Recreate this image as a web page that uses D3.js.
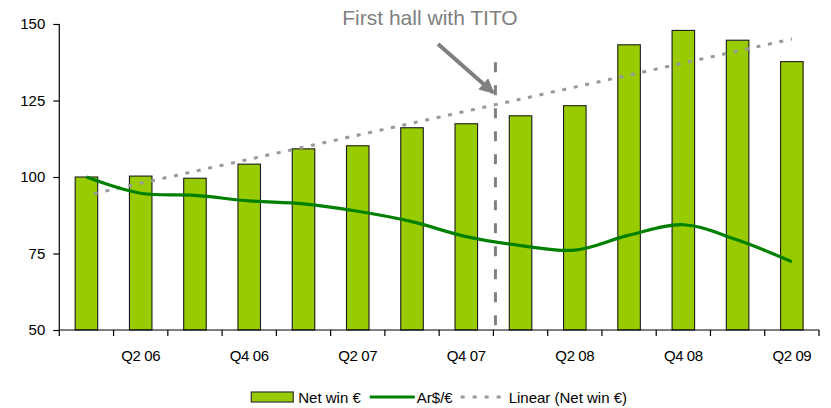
<!DOCTYPE html>
<html>
<head>
<meta charset="utf-8">
<script src="https://cdn.jsdelivr.net/npm/d3@7"></script>
<style>
  html, body { margin: 0; padding: 0; background: #fff; }
  svg { display: block; font-family: "Liberation Sans", Arial, sans-serif; }
</style>
</head>
<body>
<svg id="chart" width="831" height="408"></svg>
<script>
// Quarterly index (Q1 06 = 100)
const quarters = ["Q1 06","Q2 06","Q3 06","Q4 06","Q1 07","Q2 07","Q3 07","Q4 07",
                  "Q1 08","Q2 08","Q3 08","Q4 08","Q1 09","Q2 09"];
const netWin   = [100, 100.3, 99.6, 104.2, 109.2, 110.2, 116.1, 117.4,
                  120.0, 123.3, 143.2, 147.9, 144.7, 137.7];
const arsPerEur = [100, 94.7, 94.0, 92.2, 91.2, 88.8, 85.4, 80.5,
                   77.6, 76.1, 81.0, 84.4, 79.4, 72.3];
const yTicks = [50, 75, 100, 125, 150];
const xLabelQuarters = ["Q2 06","Q4 06","Q2 07","Q4 07","Q2 08","Q4 08","Q2 09"];
const titoQuarter = "Q1 08";          // first hall with TITO
const annotationText = "First hall with TITO";
const legendLabels = ["Net win \u20ac", "Ar$/\u20ac", "Linear (Net win \u20ac)"];

const svg = d3.select("#chart");
const margin = { left: 59.3, right: 12, top: 24, bottom: 78 };
const W = 831, H = 408;

const x = d3.scaleBand()
  .domain(quarters)
  .range([margin.left, W - margin.right])
  .paddingInner(0.585)
  .paddingOuter(0.2925);
const step = x.step();
const cx = q => x(q) + x.bandwidth() / 2;

const y = d3.scaleLinear().domain([50, 150]).range([H - margin.bottom, margin.top]);

const barColor = "#99cc00";
const lineColor = "#008000";
const trendColor = "#999999";
const annoColor = "#808080";

// Bars
svg.append("g").selectAll("rect")
  .data(quarters)
  .join("rect")
  .attr("x", q => x(q))
  .attr("y", (q, i) => y(netWin[i]))
  .attr("width", x.bandwidth())
  .attr("height", (q, i) => y(50) - y(netWin[i]))
  .attr("fill", barColor)
  .attr("stroke", "#1a1a1a")
  .attr("stroke-width", 1.1);

// Linear trend of net win (least squares over quarter index)
const n = netWin.length;
const idx = d3.range(1, n + 1);
const mx = d3.mean(idx), my = d3.mean(netWin);
const slope = d3.sum(idx, (v, i) => (v - mx) * (netWin[i] - my)) / d3.sum(idx, v => (v - mx) ** 2);
const icpt = my - slope * mx;
const trend = [quarters[0], quarters[n - 1]].map((q, k) => {
  const t = k === 0 ? 1 : n;
  return [cx(q), y(icpt + slope * t)];
});
svg.append("path")
  .attr("d", d3.line()(trend))
  .attr("fill", "none")
  .attr("stroke", trendColor)
  .attr("stroke-width", 3)
  .attr("stroke-dasharray", "4,7.7")
  .attr("stroke-dashoffset", 4);

// TITO marker line
const titoX = x(titoQuarter) - (step - x.bandwidth()) / 2 + 2;
svg.append("line")
  .attr("x1", titoX).attr("x2", titoX)
  .attr("y1", y(137.5)).attr("y2", y(50))
  .attr("stroke", annoColor)
  .attr("stroke-width", 3)
  .attr("stroke-dasharray", "10,13");

// Exchange rate line (smoothed)
svg.append("path")
  .datum(quarters)
  .attr("d", d3.line().x(q => cx(q)).y((q, i) => y(arsPerEur[i])).curve(d3.curveCatmullRom.alpha(0.5)))
  .attr("fill", "none")
  .attr("stroke", lineColor)
  .attr("stroke-width", 3.2)
  .attr("stroke-linejoin", "round");

// Axes
const yAxis = d3.axisLeft(y).tickValues(yTicks).tickSize(6).tickPadding(8);
const gy = svg.append("g").attr("transform", `translate(${margin.left},0)`).call(yAxis);
gy.select(".domain").attr("stroke", "#000").attr("stroke-width", 1.2).attr("d", `M-0,${y(150)}V${y(50)}`);
gy.selectAll(".tick line").attr("stroke", "#000").attr("stroke-width", 1.2);
gy.selectAll(".tick text").attr("font-size", 15).attr("fill", "#000")
  .attr("font-family", "Liberation Sans, Arial, sans-serif");

const gx = svg.append("g").attr("transform", `translate(0,${y(50)})`);
gx.append("line")
  .attr("x1", margin.left).attr("x2", W - margin.right)
  .attr("stroke", "#000").attr("stroke-width", 1.2);
gx.selectAll("line.tk")
  .data(d3.range(n + 1))
  .join("line")
  .attr("class", "tk")
  .attr("x1", i => margin.left + i * step).attr("x2", i => margin.left + i * step)
  .attr("y1", 0).attr("y2", 6)
  .attr("stroke", "#000").attr("stroke-width", 1.2);
gx.selectAll("text")
  .data(xLabelQuarters)
  .join("text")
  .attr("x", q => cx(q))
  .attr("y", 31)
  .attr("text-anchor", "middle")
  .attr("font-size", 15)
  .attr("letter-spacing", -0.4)
  .attr("fill", "#000")
  .text(q => q);

// Annotation
svg.append("text")
  .attr("x", 430)
  .attr("y", y(150) + 1)
  .attr("text-anchor", "middle")
  .attr("font-size", 21)
  .attr("fill", annoColor)
  .text(annotationText);

svg.append("defs").append("marker")
  .attr("id", "arrowHead")
  .attr("viewBox", "0 0 10 10")
  .attr("refX", 9).attr("refY", 5)
  .attr("markerUnits", "userSpaceOnUse")
  .attr("markerWidth", 17).attr("markerHeight", 15)
  .attr("orient", "auto")
  .append("path")
  .attr("d", "M0,0L10,5L0,10Z")
  .attr("fill", annoColor);

svg.append("line")
  .attr("x1", 438).attr("y1", 44)
  .attr("x2", titoX - 2).attr("y2", y(127.5))
  .attr("stroke", annoColor)
  .attr("stroke-width", 4)
  .attr("marker-end", "url(#arrowHead)");

// Legend
const legY = 397;
const leg = svg.append("g");
let cursor = 0;
const items = [];
// swatch 1
items.push(leg.append("rect").attr("x", cursor).attr("y", legY - 5).attr("width", 42).attr("height", 10)
  .attr("fill", barColor).attr("stroke", "#333").attr("stroke-width", 1.2));
cursor += 47;
let t = leg.append("text").attr("x", cursor).attr("y", legY + 5.5).attr("font-size", 15).text(legendLabels[0]);
cursor += t.node().getComputedTextLength() + 9;
leg.append("line").attr("x1", cursor).attr("x2", cursor + 45).attr("y1", legY).attr("y2", legY)
  .attr("stroke", lineColor).attr("stroke-width", 3);
cursor += 47;
t = leg.append("text").attr("x", cursor).attr("y", legY + 5.5).attr("font-size", 15).text(legendLabels[1]);
cursor += t.node().getComputedTextLength() + 8;
leg.append("line").attr("x1", cursor).attr("x2", cursor + 42).attr("y1", legY).attr("y2", legY)
  .attr("stroke", trendColor).attr("stroke-width", 3).attr("stroke-dasharray", "4,8");
cursor += 48;
t = leg.append("text").attr("x", cursor).attr("y", legY + 5.5).attr("font-size", 15).text(legendLabels[2]);
cursor += t.node().getComputedTextLength();
const plotCenter = (margin.left + W - margin.right) / 2;
leg.attr("transform", `translate(${plotCenter - cursor / 2},0)`);
</script>
</body>
</html>
